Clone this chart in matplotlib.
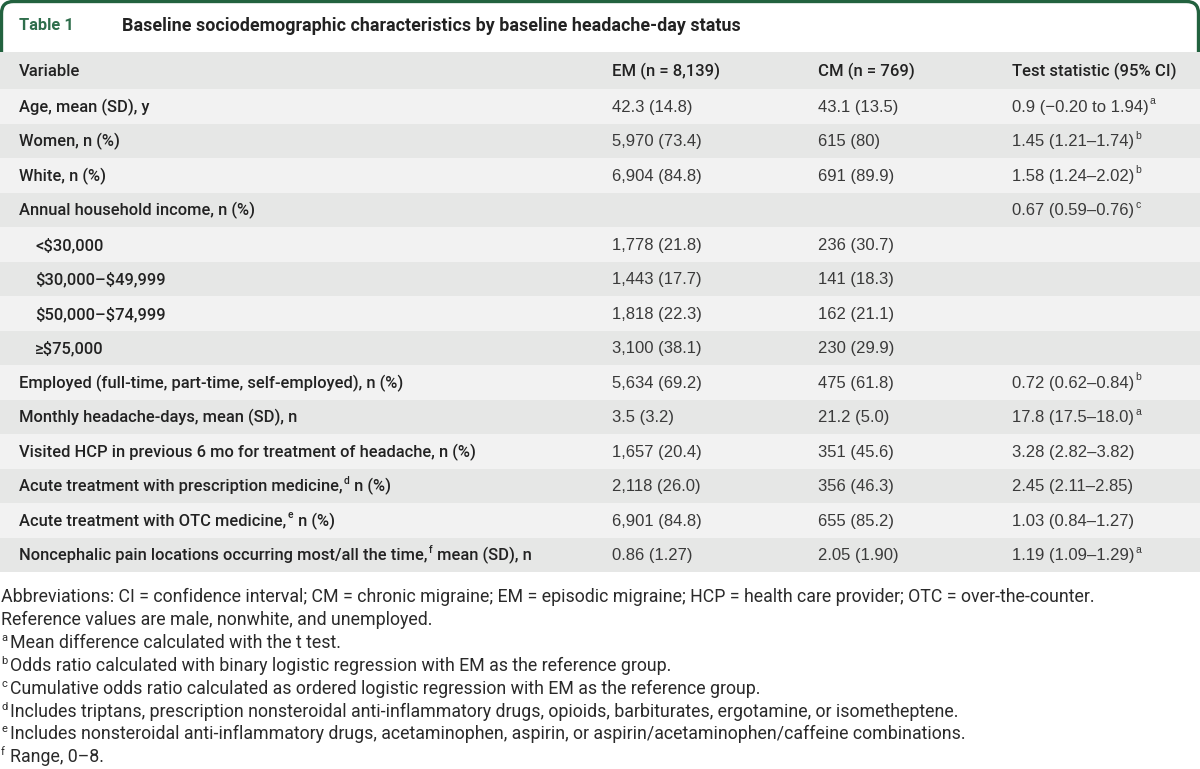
import matplotlib
matplotlib.use("Agg")
import matplotlib.pyplot as plt
from matplotlib.patches import Rectangle, FancyBboxPatch

plt.rcParams['font.family'] = ['Roboto', 'DejaVu Sans']

title_tag = "Table 1"
title_text = "Baseline sociodemographic characteristics by baseline headache-day status"
col_heads = ["Variable", "EM (n = 8,139)", "CM (n = 769)", "Test statistic (95% CI)"]

# each variable is a list of (text, superscript) pieces
variables = [
    [("Age, mean (SD), y", "")],
    [("Women, n (%)", "")],
    [("White, n (%)", "")],
    [("Annual household income, n (%)", "")],
    [("<$30,000", "")],
    [("$30,000–$49,999", "")],
    [("$50,000–$74,999", "")],
    [("≥$75,000", "")],
    [("Employed (full-time, part-time, self-employed), n (%)", "")],
    [("Monthly headache-days, mean (SD), n", "")],
    [("Visited HCP in previous 6 mo for treatment of headache, n (%)", "")],
    [("Acute treatment with prescription medicine,", "d"), (" n (%)", "")],
    [("Acute treatment with OTC medicine,", "e"), (" n (%)", "")],
    [("Noncephalic pain locations occurring most/all the time,", "f"), (" mean (SD), n", "")],
]
indented = [False, False, False, False, True, True, True, True, False, False, False, False, False, False]
em_vals = ["42.3 (14.8)", "5,970 (73.4)", "6,904 (84.8)", "", "1,778 (21.8)", "1,443 (17.7)",
           "1,818 (22.3)", "3,100 (38.1)", "5,634 (69.2)", "3.5 (3.2)", "1,657 (20.4)",
           "2,118 (26.0)", "6,901 (84.8)", "0.86 (1.27)"]
cm_vals = ["43.1 (13.5)", "615 (80)", "691 (89.9)", "", "236 (30.7)", "141 (18.3)",
           "162 (21.1)", "230 (29.9)", "475 (61.8)", "21.2 (5.0)", "351 (45.6)",
           "356 (46.3)", "655 (85.2)", "2.05 (1.90)"]
test_vals = [("0.9 (−0.20 to 1.94)", "a"), ("1.45 (1.21–1.74)", "b"), ("1.58 (1.24–2.02)", "b"),
             ("0.67 (0.59–0.76)", "c"), ("", ""), ("", ""), ("", ""), ("", ""),
             ("0.72 (0.62–0.84)", "b"), ("17.8 (17.5–18.0)", "a"), ("3.28 (2.82–3.82)", ""),
             ("2.45 (2.11–2.85)", ""), ("1.03 (0.84–1.27)", ""), ("1.19 (1.09–1.29)", "a")]

footnote_marks = ["", "", "a", "b", "c", "d", "e", "f"]
footnote_texts = [
    "Abbreviations: CI = confidence interval; CM = chronic migraine; EM = episodic migraine; HCP = health care provider; OTC = over-the-counter.",
    "Reference values are male, nonwhite, and unemployed.",
    "Mean difference calculated with the t test.",
    "Odds ratio calculated with binary logistic regression with EM as the reference group.",
    "Cumulative odds ratio calculated as ordered logistic regression with EM as the reference group.",
    "Includes triptans, prescription nonsteroidal anti-inflammatory drugs, opioids, barbiturates, ergotamine, or isometheptene.",
    "Includes nonsteroidal anti-inflammatory drugs, acetaminophen, aspirin, or aspirin/acetaminophen/caffeine combinations.",
    "Range, 0–8.",
]

green = "#22623f"
tag_green = "#2f6e4c"
dark_row = "#e6e7e6"
light_row = "#f2f2f2"
W, H = 1200, 769

fig = plt.figure(figsize=(12, 7.69), dpi=100)
ax = fig.add_axes([0, 0, 1, 1])
ax.set_xlim(0, W)
ax.set_ylim(H, 0)
ax.axis("off")
fig.canvas.draw()
renderer = fig.canvas.get_renderer()


def right_edge(t):
    bb = t.get_window_extent(renderer)
    return ax.transData.inverted().transform((bb.x1, bb.y0))[0]


def draw_pieces(x, y, pieces, size, weight="normal", color="#222222", family=None, gap=1.0):
    fam = family or plt.rcParams['font.family']
    for txt, sup in pieces:
        if txt:
            t = ax.text(x, y, txt, fontsize=size, fontweight=weight, color=color, family=fam,
                        va="center", ha="left", parse_math=False, zorder=4)
            x = right_edge(t)
        if sup:
            t = ax.text(x + gap, y - size * 0.5, sup, fontsize=size * 0.62, fontweight=weight,
                        color=color, family=fam, va="center", ha="left", parse_math=False, zorder=4)
            x = right_edge(t) + 1


# title box with green border (bottom hidden under header)
box = FancyBboxPatch((1.5, 1.5), W - 3, 80, boxstyle="round,pad=0,rounding_size=12",
                     facecolor="white", edgecolor=green, linewidth=2.4, zorder=1)
ax.add_patch(box)
ax.text(19, 26, title_tag, fontsize=11.8, fontweight="bold", color=tag_green, va="center")
ax.text(122, 26, title_text, fontsize=12.9, fontweight="semibold", color="#222222", va="center")

header_top, header_h, row_h = 52, 37, 34.5
col_x = [19, 612, 818, 1012]

ax.add_patch(Rectangle((0, header_top), W, header_h, facecolor=dark_row, edgecolor="none", zorder=2))
for cx, head in zip(col_x, col_heads):
    ax.text(cx, header_top + header_h / 2 + 1, head, fontsize=12, fontweight="medium",
            color="#222222", va="center", zorder=3)

val_font = ["Liberation Sans", "DejaVu Sans"]
top = header_top + header_h
for i, var in enumerate(variables):
    y0 = top + i * row_h
    ax.add_patch(Rectangle((0, y0), W, row_h, facecolor=light_row if i % 2 == 0 else dark_row,
                           edgecolor="none", zorder=2))
    yc = y0 + row_h / 2 + 1
    draw_pieces(col_x[0] + (16 if indented[i] else 0), yc, var, 11.9, weight="medium")
    ax.text(col_x[1], yc, em_vals[i], fontsize=12, color="#3a3a3a", family=val_font,
            va="center", zorder=3)
    ax.text(col_x[2], yc, cm_vals[i], fontsize=12, color="#3a3a3a", family=val_font,
            va="center", zorder=3)
    draw_pieces(col_x[3], yc, [test_vals[i]], 12, color="#3a3a3a", family=val_font)

fy = 597
for k, (mark, txt) in enumerate(zip(footnote_marks, footnote_texts)):
    y = fy + k * 22.9
    if mark:
        ax.text(1, y - 5, mark, fontsize=8, color="#2a2a2a", va="center", ha="left")
        ax.text(10, y, txt, fontsize=12.8, color="#2a2a2a", va="center", ha="left", parse_math=False)
    else:
        ax.text(1, y, txt, fontsize=12.8, color="#2a2a2a", va="center", ha="left", parse_math=False)

fig.savefig("out.png", dpi=100)
